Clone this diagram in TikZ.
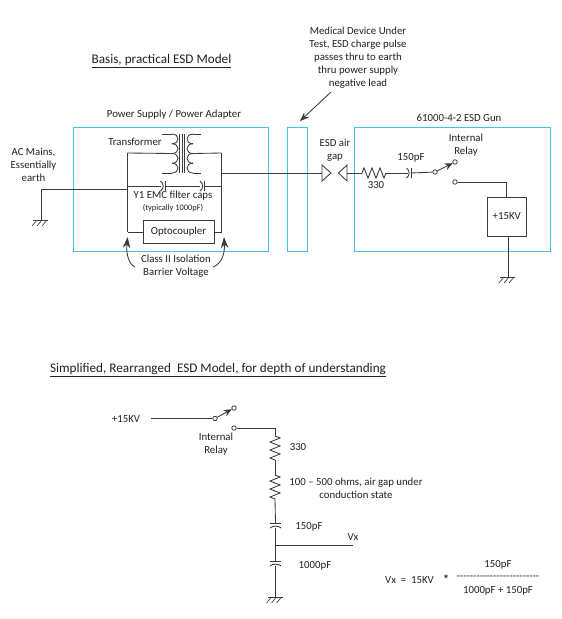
\documentclass[tikz,border=0pt]{standalone}
\usepackage{fontspec}
\setmainfont{Carlito}
\usetikzlibrary{arrows.meta}
\definecolor{wirec}{HTML}{3A3A3A}
\definecolor{boxc}{HTML}{45BFEC}
\definecolor{inkc}{HTML}{222222}
\tikzset{
  x=1pt,y=-1pt,
  wire/.style={draw=wirec,line width=0.85pt},
  thin wire/.style={draw=wirec,line width=0.65pt},
  cyanbox/.style={draw=boxc,line width=1pt},
  blackbox/.style={draw=wirec,line width=0.85pt,inner sep=0pt,fill=white},
  lbl/.style={text=inkc,font=\fontsize{10.8}{13}\selectfont,inner sep=0pt,align=center},
  small lbl/.style={text=inkc,font=\fontsize{8.4}{10}\selectfont,inner sep=0pt,align=center},
  title lbl/.style={text=inkc,font=\fontsize{13.2}{15}\selectfont,inner sep=0pt},
  terminal/.style={circle,draw=wirec,line width=0.8pt,fill=white,minimum size=4.5pt,inner sep=0pt},
  fat arrow/.style={wire,-{Stealth[length=11pt,width=7.5pt]}},
}
\newcommand{\hatchat}[2]{%
  \draw[thin wire] (#1-8,#2) -- (#1+7,#2);
  \foreach \d in {-6,-1,4}{\draw[thin wire] (#1+\d+2,#2) -- (#1+\d-3,#2+6);}
}
\newcommand{\vres}[3]{% x, y top, y bottom
  \draw[wire] (#1,#2) -- ({#1+5},{#2+(#3-#2)/12}) -- ({#1-5},{#2+3*(#3-#2)/12}) -- ({#1+5},{#2+5*(#3-#2)/12}) -- ({#1-5},{#2+7*(#3-#2)/12}) -- ({#1+5},{#2+9*(#3-#2)/12}) -- ({#1-5},{#2+11*(#3-#2)/12}) -- (#1,#3);
}
\newcommand{\hres}[3]{% x left, x right, y
  \draw[wire] (#1,#3) -- ({#1+(#2-#1)/12},{#3-5}) -- ({#1+3*(#2-#1)/12},{#3+5}) -- ({#1+5*(#2-#1)/12},{#3-5}) -- ({#1+7*(#2-#1)/12},{#3+5}) -- ({#1+9*(#2-#1)/12},{#3-5}) -- ({#1+11*(#2-#1)/12},{#3+5}) -- (#2,#3);
}
\newcommand{\hcap}[2]{% x centre of gap, y: curved left plate, straight right plate
  \draw[wire] (#1+1.5,#2-5) -- (#1+1.5,#2+5);
  \draw[wire] (#1-3,#2-5) .. controls (#1+0.5,#2-2.5) and (#1+0.5,#2+2.5) .. (#1-3,#2+5);
}
\newcommand{\vcap}[2]{% x, y centre of gap: straight top plate, curved bottom plate
  \draw[wire] (#1-5.5,#2-2) -- (#1+5.5,#2-2);
  \draw[wire] (#1-5.5,#2+3) .. controls (#1-3,#2+0.5) and (#1+3,#2+0.5) .. (#1+5.5,#2+3);
}
\begin{document}
\begin{tikzpicture}
\useasboundingbox[fill=white] (0,0) rectangle (562,619);

% --- Titles and outer boxes
\node[title lbl] (t1) at (161.5,61) {\underline{Basis, practical ESD Model}};
\node[title lbl] (t2) at (218,370) {\underline{Simplified, Rearranged~~ESD Model, for depth of understanding}};
\node[lbl] (psl) at (174,115) {Power Supply / Power Adapter};
\node[lbl] (gunl) at (459,118) {61000-4-2 ESD Gun};
\node[cyanbox,minimum width=195pt,minimum height=124pt,inner sep=0pt] (ps) at (170.5,189) {};
\node[cyanbox,minimum width=20.5pt,minimum height=124pt,inner sep=0pt] (dut) at (297.3,189) {};
\node[cyanbox,minimum width=196pt,minimum height=124pt,inner sep=0pt] (gun) at (452,189) {};
\node[lbl] (dutl) at (358,57.5) {Medical Device Under\\Test, ESD charge pulse\\passes thru to earth\\thru power supply\\negative lead};
\coordinate (dutarrow) at (331,92);
\coordinate (duttip) at (300,121);
\draw[wire,-{Stealth[length=9pt,width=7pt]}] (dutarrow) -- (duttip);

% --- AC side
\node[lbl] (acl) at (33.5,165) {AC Mains,\\Essentially\\earth};
\coordinate (gnd1) at (41,220);
\coordinate (acc) at (41,189);
\coordinate (nl) at (127.5,189);
\coordinate (nlt) at (127.5,153);
\coordinate (nlb) at (127.5,232);
\coordinate (nlf) at (127.5,186);
\coordinate (nr) at (221.5,173);
\coordinate (nrt) at (221.5,153);
\coordinate (nrb) at (221.5,232);
\coordinate (nrf) at (221.5,186);
\draw[wire] (nl) -- (acc) -- (gnd1);
\hatchat{41}{220}
\draw[wire] (nlt) -- (nlb);
\draw[wire] (nrt) -- (nrb);

% --- Transformer
\node[lbl] (trl) at (135,142) {Transformer};
\coordinate (pri) at (172,153.5);
\coordinate (sec) at (193,153.5);
\draw[wire] (162,134) -- (172,134);
\draw[wire] (162,173) -- (172,173);
\draw[wire] (193,134) -- (201,134);
\draw[wire] (193,173) -- (201,173);
\foreach \y in {134,143.75,153.5,163.25}{
  \draw[wire] (172,\y) .. controls (180,\y) and (180,\y+9.75) .. (172,\y+9.75);
  \draw[wire] (193,\y) .. controls (185,\y) and (185,\y+9.75) .. (193,\y+9.75);
}
\foreach \x in {179.5,182,184.5}{\draw[thin wire] (\x,134) -- (\x,173);}
\draw[wire] (nlt) -- (pri);
\draw[wire] (sec) -- (nrt);

% --- Filter caps
\coordinate (c1l) at (160.5,186);
\coordinate (c1r) at (165,186);
\coordinate (c2l) at (200,186);
\coordinate (c2r) at (204.5,186);
\draw[wire] (nlf) -- (c1l);
\draw[wire] (c1r) -- (c2l);
\draw[wire] (c2r) -- (nrf);
\hcap{163.5}{186}
\hcap{203}{186}
\node[lbl] (y1l) at (173,195.5) {Y1 EMC filter caps};
\node[small lbl] (y1s) at (173,208) {(typically 1000pF)};

% --- Optocoupler
\node[blackbox,minimum width=71pt,minimum height=23pt,lbl,inner sep=0pt] (opto) at (178.5,232) {Optocoupler};
\draw[wire] (nlb) -- (opto.west);
\draw[wire] (opto.east) -- (nrb);
\node[lbl] (cl2) at (176,266.5) {Class II Isolation\\Barrier Voltage};
\coordinate (a1s) at (135,267);
\coordinate (a1t) at (127.5,237);
\coordinate (a2s) at (213,267);
\coordinate (a2t) at (224,237);
\draw[fat arrow] (a1s) .. controls (129,264) and (126,255) .. (a1t);
\draw[fat arrow] (a2s) .. controls (221,264) and (225,255) .. (a2t);

% --- Output and air gap
\coordinate (outr) at (322,173);
\draw[wire] (nr) -- (outr);
\draw[wire,fill=white] (322,165) -- (331,173) -- (322,181) -- cycle;
\draw[wire,fill=white] (347,165) -- (338.5,173) -- (347,181) -- cycle;
\node[lbl] (gapl) at (335,150) {ESD air\\gap};

% --- Gun
\coordinate (g0) at (347,173);
\coordinate (r1) at (362,173);
\coordinate (r2) at (386,173);
\coordinate (c3l) at (408,173);
\coordinate (c3r) at (411,173);
\node[terminal] (s1) at (435,172) {};
\node[terminal] (s2) at (455,162) {};
\node[terminal] (s3) at (455,182) {};
\draw[wire] (g0) -- (r1);
\hres{362}{386}{173}
\draw[wire] (r2) -- (c3l);
\hcap{409.5}{173}
\draw[wire] (c3r) -- (s1);
\draw[wire,-{Stealth[length=8pt,width=7pt]}] (s1) -- (s2);
\node[lbl] (rl) at (376,185) {330};
\node[lbl] (cl) at (411,158) {150pF};
\node[lbl] (irl) at (466,145.5) {Internal\\Relay};
\node[blackbox,minimum width=39.5pt,minimum height=39pt,lbl] (hv) at (506.7,216.5) {+15KV};
\coordinate (s3c) at (506,182);
\draw[wire] (s3) -- (s3c) -- (hv.north -| s3c);
\coordinate (gnd2) at (508,277);
\draw[wire] (hv.south -| gnd2) -- (gnd2);
\hatchat{508}{277}

% --- Simplified model
\node[lbl] (hv2) at (126,419) {+15KV};
\coordinate (hvs) at (151,418.5);
\node[terminal] (b1) at (215,418.5) {};
\node[terminal] (b2) at (234,408) {};
\node[terminal] (b3) at (234,428) {};
\draw[wire] (hvs) -- (b1);
\draw[wire,-{Stealth[length=8pt,width=7pt]}] (b1) -- (b2);
\node[lbl] (irl2) at (216,444.5) {Internal\\Relay};
\coordinate (bc) at (275,428);
\coordinate (br1) at (275,436);
\coordinate (br2) at (275,460);
\coordinate (br3) at (275,475);
\coordinate (br4) at (275,499);
\coordinate (bc1) at (275.5,523);
\coordinate (bc2) at (275.5,528);
\coordinate (bj) at (275.5,545);
\coordinate (bc3) at (275.5,561);
\coordinate (bc4) at (275.5,566);
\coordinate (gnd3) at (275.5,597);
\coordinate (vx) at (353,545);
\draw[wire] (b3) -- (bc) -- (br1);
\vres{275}{436}{460}
\draw[wire] (br2) -- (br3);
\vres{275}{475}{499}
\draw[wire] (br4) -- (bc1);
\vcap{275.5}{525}
\draw[wire] (bc2) -- (bj) -- (bc3);
\vcap{275.5}{563}
\draw[wire] (bc4) -- (gnd3);
\hatchat{275.5}{597}
\draw[wire] (bj) -- (vx);
\node[lbl] (r330) at (298,447) {330};
\node[lbl] (rgap) at (356,488) {100 – 500 ohms, air gap under\\conduction state};
\node[lbl] (c150) at (309,527) {150pF};
\node[lbl] (c1000) at (315,566) {1000pF};
\node[lbl] (vxl) at (353,537) {Vx};

% --- Formula
\node[lbl] (f1) at (409.5,580) {Vx~~=~~15KV};
\node[lbl,font=\fontsize{12}{13}\selectfont\bfseries] (f2) at (446,579) {*};
\node[lbl] (f3) at (498,565) {150pF};
\node[lbl] (f4) at (498,578) {-{}-{}-{}-{}-{}-{}-{}-{}-{}-{}-{}-{}-{}-{}-{}-{}-{}-{}-{}-{}-{}-{}-{}-{}-{}};
\node[lbl] (f5) at (498,591) {1000pF + 150pF};
\end{tikzpicture}
\end{document}
